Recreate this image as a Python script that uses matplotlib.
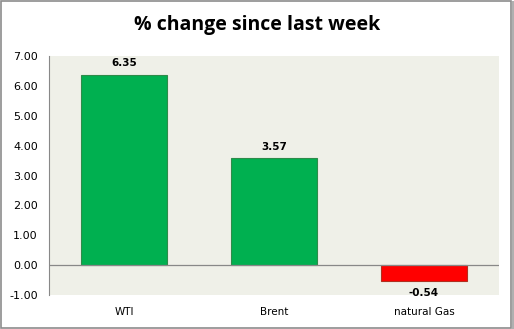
import matplotlib
matplotlib.use("Agg")
import matplotlib.pyplot as plt
from matplotlib.patches import Rectangle

categories = ["WTI", "Brent", "natural Gas"]
values = [6.35, 3.57, -0.54]
yticks = [-1, 0, 1, 2, 3, 4, 5, 6, 7]

fig = plt.figure(figsize=(5.14, 3.29), dpi=100)
fig.patch.set_facecolor("white")
ax = fig.add_axes([49/514, 1-295/329, 450/514, (295-56)/329])
ax.set_facecolor("#EFF0E8")

colors = ["#00B050" if v >= 0 else "#FF0000" for v in values]
edges = ["#2E8B4A" if v >= 0 else "#B03020" for v in values]
x = list(range(len(categories)))
ax.bar(x, values, width=0.57, color=colors, edgecolor=edges, linewidth=0.8, zorder=3)
ax.set_xlim(-0.5, 2.5)
ax.set_ylim(-1, 7)
ax.set_yticks(yticks)
ax.set_yticklabels([f"{t:.2f}" for t in yticks], fontsize=8, family="DejaVu Sans")
ax.tick_params(axis="y", length=0, pad=8)
ax.tick_params(axis="x", length=0)
ax.set_xticks([])
for s in ["top", "right", "bottom"]:
    ax.spines[s].set_visible(False)
ax.spines["left"].set_color("#888888")
ax.axhline(0, color="#888888", linewidth=0.9, zorder=4)

for xi, v in zip(x, values):
    if v >= 0:
        ax.annotate(f"{v:.2f}", (xi, v), xytext=(0, 5), textcoords="offset points",
                    ha="center", va="bottom", fontsize=7.5, fontweight="bold")
    else:
        ax.annotate(f"{v:.2f}", (xi, v), xytext=(0, -5), textcoords="offset points",
                    ha="center", va="top", fontsize=7.5, fontweight="bold")

for xi, c in zip(x, categories):
    ax.annotate(c, (xi, 0), xycoords=("data", "axes fraction"), xytext=(0, -12.5),
                textcoords="offset points", ha="center", va="center", fontsize=7.5)

fig.text(0.5, 1-25/329, "% change since last week", ha="center", va="center",
         fontsize=14, fontweight="bold", family="Open Sans")

fig.patches.append(Rectangle((0.002, 0.004), 0.993, 0.992, transform=fig.transFigure,
                             fill=False, edgecolor="#8C8C8C", linewidth=1.2))
fig.patches.append(Rectangle((0.996, 0.0), 0.004, 0.996, transform=fig.transFigure,
                             fill=True, facecolor="#B0B0B0", edgecolor="none"))

fig.savefig("out.png", dpi=100)
